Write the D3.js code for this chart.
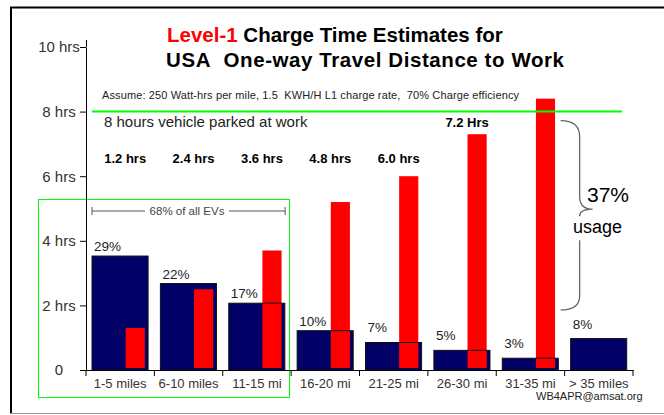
<!DOCTYPE html>
<html>
<head>
<meta charset="utf-8">
<script src="https://cdn.jsdelivr.net/npm/d3@7"></script>
<style>
  body { margin: 0; background: #fff; }
  svg text { font-family: "Liberation Sans", Arial, sans-serif; }
</style>
</head>
<body>
<svg id="chart" width="664" height="415"></svg>
<script>
// distance bands, share of commuters and L1 charge hours
var categories = ["1-5 miles", "6-10 miles", "11-15 mi", "16-20 mi", "21-25 mi", "26-30 mi", "31-35 mi", "> 35 miles"];
var sharePct = [29, 22, 17, 10, 7, 5, 3, 8];
var chargeHrs = [1.3, 2.5, 3.7, 5.2, 6.0, 7.3, 8.4, null];
var hrsLabels = ["1.2 hrs", "2.4 hrs", "3.6 hrs", "4.8 hrs", "6.0 hrs", "7.2 Hrs"];
var yTicks = [0, 2, 4, 6, 8, 10];

var svg = d3.select("#chart");
var NAVY = "#000066", RED = "#ff0000", GREEN = "#00ff00";
var NB = "\u00a0";

var x = d3.scaleBand().domain(categories).range([86, 633]);
var y = d3.scaleLinear().domain([0, 10]).range([370, 47]);
var yPct = d3.scaleLinear().domain([0, 82.2]).range([370, 47]); // share bars on their own scale
var bw = x.bandwidth();

// frame
svg.append("line").attr("x1", 10).attr("x2", 664).attr("y1", 7.5).attr("y2", 7.5)
  .attr("stroke", "#000").attr("stroke-width", 2);
svg.append("line").attr("x1", 11).attr("x2", 11).attr("y1", 7).attr("y2", 413)
  .attr("stroke", "#000").attr("stroke-width", 2);
svg.append("line").attr("x1", 10).attr("x2", 664).attr("y1", 413.5).attr("y2", 413.5)
  .attr("stroke", "#999").attr("stroke-width", 1);

// title
var t1 = svg.append("text").attr("x", 167).attr("y", 42)
  .attr("font-size", 20.5).attr("font-weight", "bold");
t1.append("tspan").attr("fill", RED).text("Level-1");
t1.append("tspan").attr("fill", "#000").text(" Charge Time Estimates for");
svg.append("text").attr("x", 166).attr("y", 67).attr("font-size", 20.5).attr("font-weight", "bold")
  .attr("textLength", 398).attr("lengthAdjust", "spacing")
  .text("USA" + NB + NB + "One-way Travel Distance to Work");

svg.append("text").attr("x", 102).attr("y", 99).attr("font-size", 11).attr("fill", "#222")
  .attr("textLength", 417).attr("lengthAdjust", "spacing")
  .text("Assume:" + NB + "250 Watt-hrs per mile," + NB + "1.5" + NB + NB + "KWH/H L1 charge rate," + NB + NB + "70% Charge efficiency");

// 68% box
svg.append("rect").attr("x", 38.5).attr("y", 199.5).attr("width", 251).attr("height", 198)
  .attr("fill", "none").attr("stroke", GREEN).attr("stroke-width", 1);

// bars
var g = svg.append("g");
g.selectAll("rect.share").data(categories).enter().append("rect")
  .attr("class", "share")
  .attr("x", function (d) { return x(d) + bw * 0.088; })
  .attr("y", function (d, i) { return yPct(sharePct[i]); })
  .attr("width", bw * 0.82)
  .attr("height", function (d, i) { return yPct(0) - yPct(sharePct[i]); })
  .attr("fill", NAVY);

var redData = categories.filter(function (d, i) { return chargeHrs[i] != null; });
g.selectAll("rect.hrs").data(redData).enter().append("rect")
  .attr("class", "hrs")
  .attr("x", function (d) { return x(d) + bw * 0.58; })
  .attr("y", function (d, i) { return y(chargeHrs[i]); })
  .attr("width", bw * 0.28)
  .attr("height", function (d, i) { return y(0) - y(chargeHrs[i]) - 2; })
  .attr("fill", RED);

// share bar outlines on top of the red
g.selectAll("rect.outline").data(categories).enter().append("rect")
  .attr("x", function (d) { return x(d) + bw * 0.088; })
  .attr("y", function (d, i) { return yPct(sharePct[i]); })
  .attr("width", bw * 0.82)
  .attr("height", function (d, i) { return yPct(0) - yPct(sharePct[i]); })
  .attr("fill", "none").attr("stroke", "#111").attr("stroke-width", 1);

// percentage labels
g.selectAll("text.pct").data(categories).enter().append("text")
  .attr("x", function (d) { return x(d) + 8; })
  .attr("y", function (d, i) { return yPct(sharePct[i]) - (i < 4 ? 5 : 10); })
  .attr("font-size", 13.5).attr("fill", "#222")
  .text(function (d, i) { return sharePct[i] + "%"; });

// charge hours labels
g.selectAll("text.hrs").data(hrsLabels).enter().append("text")
  .attr("x", function (d, i) { return x(categories[i]) + bw / 2 + 5; })
  .attr("y", function (d, i) { return i == 5 ? 127 : 163; })
  .attr("text-anchor", "middle").attr("font-size", 13).attr("font-weight", "bold")
  .text(function (d) { return d; });

// 8 hour line
svg.append("line").attr("x1", 92).attr("x2", 622).attr("y1", y(8)).attr("y2", y(8))
  .attr("stroke", GREEN).attr("stroke-width", 2);
svg.append("text").attr("x", 104).attr("y", 127).attr("font-size", 15).attr("fill", "#222")
  .text("8 hours vehicle parked at work");

// y axis
var yAxis = svg.append("g").attr("transform", "translate(86,0)")
  .call(d3.axisLeft(y).tickValues(yTicks).tickSize(6).tickSizeOuter(0).tickPadding(0)
    .tickFormat(function (d) { return d ? d + " hrs" : "0"; }));
yAxis.select(".domain").attr("stroke", "#000");
yAxis.append("line").attr("x1", 0.5).attr("x2", 0.5).attr("y1", y(10) - 7).attr("y2", y(10)).attr("stroke", "#000");
yAxis.selectAll("text").attr("font-size", 15).attr("fill", "#333")
  .attr("text-anchor", "middle").attr("x", -27);

// x axis
var xAxis = svg.append("g").attr("transform", "translate(0,370)")
  .call(d3.axisBottom(x).tickSize(0).tickSizeOuter(0).tickPadding(9));
xAxis.select(".domain").attr("stroke", "#000");
xAxis.selectAll("text").attr("font-size", 13).attr("fill", "#333");
xAxis.selectAll("line.bound").data(categories.concat(["end"])).enter().append("line")
  .attr("class", "bound")
  .attr("x1", function (d) { return d == "end" ? 633 : x(d); })
  .attr("x2", function (d) { return d == "end" ? 633 : x(d); })
  .attr("y1", 0).attr("y2", 6).attr("stroke", "#000");

// 68% of all EVs span
var sx0 = x(categories[0]) + 6, sx1 = x(categories[2]) + bw - 6, sy = 211;
svg.append("line").attr("x1", sx0).attr("x2", 145).attr("y1", sy).attr("y2", sy).attr("stroke", "#555");
svg.append("line").attr("x1", 229).attr("x2", sx1).attr("y1", sy).attr("y2", sy).attr("stroke", "#555");
[sx0, sx1].forEach(function (v) {
  svg.append("line").attr("x1", v).attr("x2", v).attr("y1", sy - 4).attr("y2", sy + 4).attr("stroke", "#555");
});
svg.append("text").attr("x", 187).attr("y", sy + 4).attr("text-anchor", "middle")
  .attr("font-size", 11.5).attr("fill", "#444").text("68% of all EVs");

// brace for the 37%
var bx = x(categories[7]) - 4, bTop = y(7.72), bBot = y(1.86), bMid = y(4.98);
var bracePath = "M" + bx + "," + bTop + " Q" + (bx + 19) + "," + bTop + " " + (bx + 19) + "," + (bTop + 16)
  + " L" + (bx + 19) + "," + (bMid - 13) + " Q" + (bx + 19) + "," + bMid + " " + (bx + 32) + "," + bMid
  + " Q" + (bx + 19) + "," + bMid + " " + (bx + 19) + "," + (bMid + 7)
  + " M" + (bx + 19) + "," + (bMid + 31) + " L" + (bx + 19) + "," + (bBot - 14)
  + " Q" + (bx + 19) + "," + bBot + " " + bx + "," + bBot;
svg.append("path").attr("d", bracePath).attr("fill", "none").attr("stroke", "#666").attr("stroke-width", 1.3);
svg.append("text").attr("x", 587).attr("y", 202).attr("font-size", 21).attr("fill", "#000").text("37%");
svg.append("text").attr("x", 573).attr("y", 233).attr("font-size", 18).attr("fill", "#000").text("usage");

svg.append("text").attr("x", 536).attr("y", 400).attr("font-size", 11).attr("fill", "#222")
  .text("WB4APR@amsat.org");
</script>
</body>
</html>
